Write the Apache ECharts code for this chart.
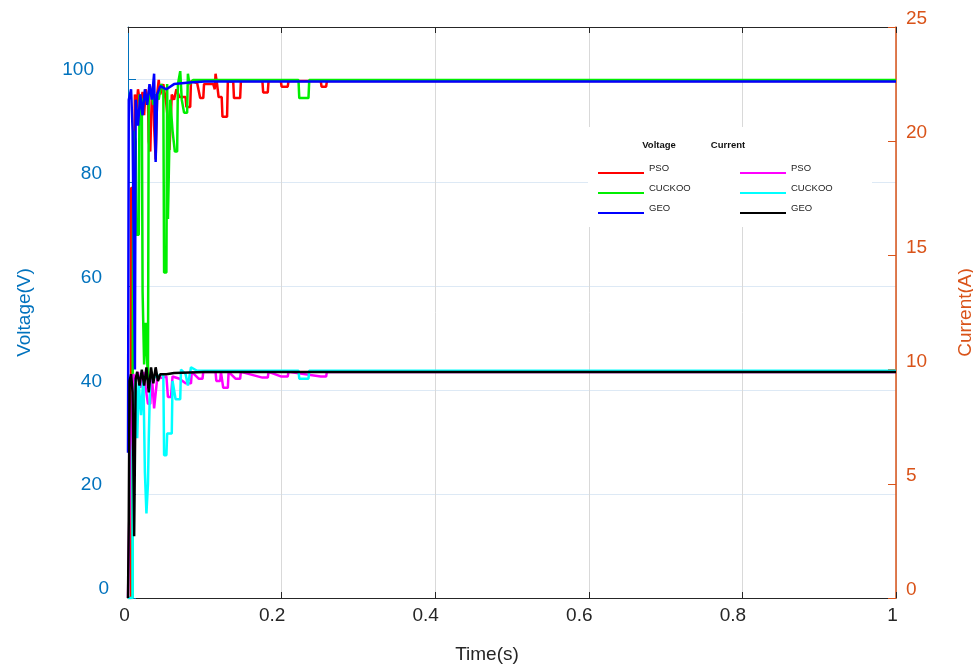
<!DOCTYPE html>
<html>
<head>
<meta charset="utf-8">
<script src="https://cdn.jsdelivr.net/npm/echarts@6/dist/echarts.min.js"></script>
<style>
  html, body { margin: 0; padding: 0; background: #fff; }
  #chart { width: 973px; height: 666px; }
</style>
</head>
<body>
<div id="chart"></div>
<script>
// x ticks (s)
var timeTicks = [0, 0.2, 0.4, 0.6, 0.8, 1];
var voltTicks = [0, 20, 40, 60, 80, 100];
var currTicks = [0, 5, 10, 15, 20, 25];

// voltage, PSO  [t, V]
var voltPso = [[0,0],[0.004,0],[0.004,79],[0.008,79],[0.009,97],[0.011,94],[0.013,98],[0.016,95],[0.019,97.5],[0.021,93],
  [0.023,98],[0.026,96],[0.027,88],[0.029,86],[0.031,97],[0.033,99],[0.034,91],[0.036,84.5],[0.038,97],[0.040,99.8],
  [0.042,97],[0.046,99],[0.050,95],[0.052,92],[0.054,86.3],[0.056,86.3],[0.057,97],[0.060,96],[0.063,98],[0.067,96.5],
  [0.075,96.5],[0.076,94.6],[0.081,94.6],[0.082,99.6],[0.090,99.2],[0.094,96.3],[0.098,96.3],[0.099,99],[0.111,99],
  [0.113,98],[0.114,101],[0.116,99],[0.118,96.5],[0.122,96.5],[0.123,92.7],[0.129,92.7],[0.130,99.5],[0.137,99.5],
  [0.138,96.3],[0.146,96.3],[0.147,99.6],[0.175,99.6],[0.176,97.4],[0.182,97.4],[0.183,99.6],[0.199,99.6],[0.200,98.5],
  [0.208,98.5],[0.209,99.6],[0.251,99.6],[0.252,98.5],[0.258,98.5],[0.259,99.6],[1,99.6]];
// voltage, CUCKOO
var voltCuckoo = [[0,0],[0.006,0],[0.006,36],[0.007,90],[0.010,88],[0.011,70],[0.014,70],[0.015,97],[0.018,96],[0.019,59],
  [0.021,45],[0.023,53],[0.025,53],[0.026,42],[0.027,97],[0.030,98],[0.033,95],[0.036,97],[0.040,96],[0.043,99],[0.046,98],
  [0.047,62.7],[0.050,62.7],[0.051,99],[0.052,73],[0.054,73],[0.055,96],[0.058,90],[0.061,86],[0.064,86],[0.065,99],
  [0.068,101.5],[0.070,96],[0.073,93.5],[0.077,93.5],[0.078,101],[0.080,99],[0.085,99.8],[0.222,99.8],[0.223,96.3],
  [0.235,96.3],[0.236,99.8],[1,99.8]];
// voltage, GEO
var voltGeo = [[0,28],[0.001,96],[0.004,98],[0.006,90],[0.009,44],[0.010,96],[0.013,91],[0.016,97],[0.019,93],[0.022,98],
  [0.025,95],[0.028,99],[0.031,96],[0.034,101],[0.036,84],[0.038,97],[0.042,98.6],[0.050,98],[0.060,99],[0.080,99.3],
  [0.100,99.5],[1,99.5]];

// current, PSO  [t, A]
var currPso = [[0,0],[0.002,0],[0.003,6.3],[0.005,8],[0.007,9.8],[0.010,9.5],[0.013,9.9],[0.016,9.2],[0.020,9.9],[0.026,8.5],
  [0.029,8.5],[0.031,9.8],[0.034,8.3],[0.038,9.6],[0.050,9.7],[0.052,8.8],[0.056,8.8],[0.058,9.7],[0.067,9.6],[0.075,9.4],
  [0.082,9.4],[0.083,9.9],[0.092,9.6],[0.097,9.6],[0.098,9.9],[0.114,9.9],[0.115,9.5],[0.120,9.5],[0.121,9.9],[0.124,9.2],
  [0.130,9.2],[0.131,9.9],[0.140,9.6],[0.146,9.6],[0.147,9.9],[0.175,9.65],[0.182,9.65],[0.183,9.9],[0.199,9.7],
  [0.208,9.7],[0.209,9.9],[0.251,9.7],[0.258,9.7],[0.259,9.9],[1,9.9]];
// current, CUCKOO
var currCuckoo = [[0,0],[0.006,0],[0.006,6.3],[0.008,8.5],[0.010,9.6],[0.012,7],[0.014,9.4],[0.017,8],[0.020,9.7],[0.022,5.5],
  [0.024,3.7],[0.026,5],[0.027,6.9],[0.029,9.8],[0.033,9.6],[0.036,9.7],[0.046,9.8],[0.047,6.25],[0.050,6.25],[0.051,7.2],
  [0.057,7.2],[0.058,9.5],[0.062,8.7],[0.068,8.7],[0.069,10.0],[0.075,9.8],[0.078,9.3],[0.082,10.1],[0.090,9.95],
  [0.222,9.95],[0.223,9.6],[0.235,9.6],[0.236,9.95],[1,9.95]];
// current, GEO
var currGeo = [[0,0],[0.001,3.4],[0.002,9.5],[0.004,9.8],[0.006,9.0],[0.008,2.7],[0.010,9.6],[0.012,9.9],[0.015,9.3],
  [0.018,10.0],[0.021,9.3],[0.024,10.1],[0.027,9.0],[0.030,10.1],[0.033,9.4],[0.036,10.1],[0.039,9.5],[0.042,9.8],
  [0.050,9.8],[0.060,9.85],[0.100,9.9],[1,9.9]];

var chart = echarts.init(document.getElementById('chart'));
var font = 'Liberation Sans, Arial, sans-serif';
var blue = '#0072BD', orange = '#D95319';

function line(name, data, color, yIdx) {
    return {
        name: name, type: 'line', data: data, yAxisIndex: yIdx,
        showSymbol: false, symbol: 'none', color: color,
        lineStyle: { width: 2.5, color: color }
    };
}

// legend column; text sits a little above the line like the original
function legendCol(names, left) {
    return {
        data: names, orient: 'vertical', left: left, top: 158,
        icon: 'rect', itemWidth: 46, itemHeight: 2, itemGap: 0,
        formatter: function (n) { return '{t|' + n.split(' ')[1] + '}'; },
        textStyle: {
            fontFamily: font, fontSize: 9.5, color: '#222',
            rich: { t: { fontFamily: font, fontSize: 9.5, color: '#222', padding: [0, 0, 10, 0], lineHeight: 10.5 } }
        }
    };
}

// tick labels: longer labels sit a bit further left, as in the original
function xLabel(v) {
    var s = String(v);
    return (s.length > 1 ? '{w|' : '{n|') + s + '}';
}
function yLabel(v) {
    var s = String(v);
    return (s.length > 2 ? '{w|' : s.length > 1 ? '{m|' : '{n|') + s + '}';
}

var option = {
    animation: false,
    backgroundColor: '#fff',
    grid: { left: 128, right: 77, top: 27, bottom: 68, outerBoundsMode: 'none' },
    xAxis: [{
        type: 'value', min: timeTicks[0], max: timeTicks[timeTicks.length - 1], interval: 0.2,
        name: 'Time(s)', nameLocation: 'middle', nameGap: 47,
        nameTextStyle: { fontFamily: font, fontSize: 19, color: '#262626', padding: [0, 50, 0, 0] },
        axisLine: { onZero: false, lineStyle: { color: '#262626', width: 1 } },
        axisTick: { inside: true, length: 6, lineStyle: { color: '#262626' } },
        axisLabel: {
            fontFamily: font, fontSize: 19, color: '#262626', margin: 8, formatter: xLabel,
            rich: {
                w: { fontFamily: font, fontSize: 19, color: '#262626', padding: [0, 19, 0, 0] },
                n: { fontFamily: font, fontSize: 19, color: '#262626', padding: [0, 7, 0, 0] }
            }
        },
        splitLine: { show: true, lineStyle: { color: '#d9d9d9', width: 1 } }
    }, {
        type: 'value', position: 'top', min: 0, max: 1, interval: 0.2,
        axisLine: { onZero: false, lineStyle: { color: '#262626', width: 1 } },
        axisTick: { inside: true, length: 6, lineStyle: { color: '#262626' } },
        axisLabel: { show: false }, splitLine: { show: false }
    }],
    yAxis: [{
        type: 'value', min: voltTicks[0], max: 110, interval: 20, position: 'left',
        name: 'Voltage(V)', nameLocation: 'middle', nameGap: 94,
        nameTextStyle: { fontFamily: font, fontSize: 19, color: blue },
        axisLine: { show: true, onZero: false, lineStyle: { color: blue, width: 1 } },
        axisTick: { show: true, inside: true, length: 8, lineStyle: { color: blue } },
        axisLabel: {
            fontFamily: font, fontSize: 19, color: blue, margin: 19, showMaxLabel: false,
            verticalAlign: 'bottom', lineHeight: 18, formatter: yLabel,
            rich: {
                w: { fontFamily: font, fontSize: 19, color: blue, lineHeight: 18, padding: [0, 15, 0, 0] },
                m: { fontFamily: font, fontSize: 19, color: blue, lineHeight: 18, padding: [0, 7, 0, 0] },
                n: { fontFamily: font, fontSize: 19, color: blue, lineHeight: 18 }
            }
        },
        splitLine: { show: true, lineStyle: { color: '#dde9f5', width: 1 } }
    }, {
        type: 'value', min: currTicks[0], max: currTicks[currTicks.length - 1], interval: 5, position: 'right',
        name: 'Current(A)', nameLocation: 'middle', nameGap: 60,
        nameTextStyle: { fontFamily: font, fontSize: 19, color: orange },
        axisLine: { show: true, onZero: false, lineStyle: { color: orange, width: 1.5 } },
        axisTick: { show: true, inside: true, length: 8, lineStyle: { color: orange } },
        axisLabel: { fontFamily: font, fontSize: 19, color: orange, margin: 10,
            verticalAlign: 'bottom', lineHeight: 16 },
        splitLine: { show: false }
    }],
    legend: [
        legendCol(['V PSO', 'V CUCKOO', 'V GEO'], 593),
        legendCol(['I PSO', 'I CUCKOO', 'I GEO'], 735)
    ],
    graphic: [
        { type: 'rect', z: 3, shape: { x: 588, y: 127, width: 284, height: 100 }, style: { fill: '#fff' } },
        { type: 'text', z: 5, x: 659, y: 145, style: { text: 'Voltage', font: 'bold 9.5px ' + font, fill: '#111',
            align: 'center', verticalAlign: 'middle' } },
        { type: 'text', z: 5, x: 728, y: 145, style: { text: 'Current', font: 'bold 9.5px ' + font, fill: '#111',
            align: 'center', verticalAlign: 'middle' } }
    ],
    series: [
        line('V PSO', voltPso, '#ff0000', 0),
        line('V CUCKOO', voltCuckoo, '#00ee00', 0),
        line('V GEO', voltGeo, '#0000ff', 0),
        line('I PSO', currPso, '#ff00ff', 1),
        line('I CUCKOO', currCuckoo, '#00ffff', 1),
        line('I GEO', currGeo, '#000000', 1)
    ]
};
chart.setOption(option);
</script>
</body>
</html>
